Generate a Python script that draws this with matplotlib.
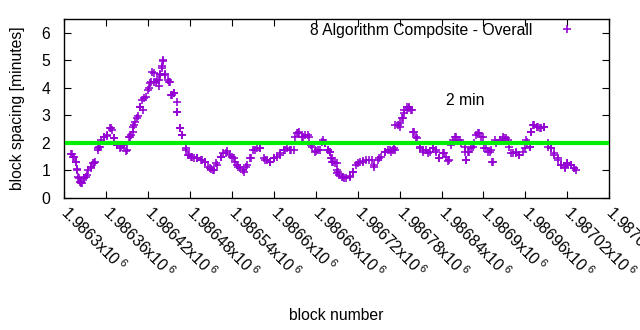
import matplotlib

matplotlib.use("Agg")
import matplotlib.pyplot as plt

plt.rcParams["font.family"] = ["Liberation Sans", "DejaVu Sans"]
plt.rcParams["mathtext.fontset"] = "custom"
plt.rcParams["mathtext.rm"] = "Liberation Sans"
plt.rcParams["mathtext.default"] = "regular"

FS = 11.3

# block spacing (minutes), averaged, per block number
blocks = [
    1986312, 1986314, 1986317, 1986319, 1986321, 1986324, 1986326, 1986329,
    1986333, 1986338, 1986343, 1986348, 1986352, 1986357, 1986362, 1986367,
    1986371, 1986376, 1986381, 1986386, 1986390, 1986395, 1986398, 1986400,
    1986405, 1986409, 1986412, 1986417, 1986421, 1986425, 1986429, 1986432,
    1986436, 1986438, 1986440, 1986442, 1986445, 1986450, 1986455, 1986457,
    1986462, 1986466, 1986469, 1986474, 1986479, 1986483, 1986490, 1986498,
    1986501, 1986509, 1986513, 1986518, 1986525, 1986532, 1986540, 1986544,
    1986549, 1986556, 1986561, 1986566, 1986573, 1986580, 1986587, 1986594,
    1986601, 1986609, 1986616, 1986623, 1986630, 1986635, 1986642, 1986649,
    1986654, 1986659, 1986666, 1986670, 1986673, 1986678, 1986680, 1986682,
    1986684, 1986690, 1986692, 1986697, 1986701, 1986709, 1986713, 1986720,
    1986728, 1986737, 1986744, 1986751, 1986759, 1986766, 1986770, 1986772,
    1986774, 1986780, 1986785, 1986787, 1986790, 1986794, 1986797, 1986799,
    1986804, 1986809, 1986813, 1986820, 1986828, 1986832, 1986837, 1986844,
    1986851, 1986856, 1986861, 1986866, 1986873, 1986875, 1986880, 1986885,
    1986890, 1986894, 1986899, 1986904, 1986909, 1986912, 1986916, 1986923,
    1986930, 1986935, 1986940, 1986947, 1986951, 1986959, 1986963, 1986967,
    1986968, 1986973, 1986978, 1986982, 1986987, 1986992, 1986997, 1987001,
    1987006, 1987011, 1987016, 1987020, 1987025, 1987030,
    1986310, 1986313, 1986317, 1986319, 1986320, 1986323, 1986325, 1986328,
    1986331, 1986334, 1986338, 1986342, 1986345, 1986348, 1986350, 1986353,
    1986357, 1986361, 1986366, 1986369, 1986372, 1986376, 1986380, 1986385,
    1986389, 1986393, 1986396, 1986399, 1986402, 1986406, 1986409, 1986413,
    1986415, 1986420, 1986423, 1986426, 1986429, 1986433, 1986436, 1986438,
    1986440, 1986442, 1986445, 1986449, 1986451, 1986453, 1986457, 1986461,
    1986462, 1986466, 1986469, 1986474, 1986477, 1986481, 1986486, 1986490,
    1986496, 1986501, 1986506, 1986510, 1986515, 1986519, 1986524, 1986528,
    1986533, 1986538, 1986543, 1986548, 1986552, 1986557, 1986562, 1986567,
    1986571, 1986576, 1986581, 1986586, 1986590, 1986595, 1986600, 1986605,
    1986609, 1986614, 1986619, 1986624, 1986629, 1986633, 1986636, 1986640,
    1986645, 1986650, 1986655, 1986660, 1986664, 1986669, 1986674, 1986678,
    1986683, 1986688, 1986691, 1986680, 1986685, 1986690, 1986694, 1986699,
    1986704, 1986709, 1986713, 1986718, 1986723, 1986728, 1986732, 1986740,
    1986744, 1986749, 1986754, 1986759, 1986763, 1986768, 1986773, 1986778,
    1986781, 1986784, 1986787, 1986790, 1986794, 1986798, 1986801, 1986805,
    1986809, 1986813, 1986818, 1986823, 1986828, 1986832, 1986837, 1986842,
    1986847, 1986849, 1986854, 1986859, 1986863, 1986868, 1986873, 1986875,
    1986878, 1986882, 1986887, 1986892, 1986897, 1986901, 1986906, 1986911,
    1986913, 1986918, 1986923, 1986928, 1986932, 1986937, 1986942, 1986947,
    1986951, 1986956, 1986961, 1986966, 1986968, 1986971, 1986976, 1986981,
    1986987, 1986992, 1986997, 1987001, 1987006, 1987011, 1987016, 1987020,
    1987025, 1987030, 1987032,
]
spacing = [
    1.60, 1.49, 1.32, 1.02, 0.73, 0.59, 0.55, 0.73,
    0.84, 1.08, 1.26, 1.81, 1.87, 2.20, 2.29, 2.53,
    2.18, 1.93, 1.87, 1.93, 1.75, 2.20, 2.41, 2.65,
    2.90, 3.32, 3.56, 3.68, 3.99, 4.23, 4.53, 4.23,
    4.29, 4.47, 4.72, 4.96, 4.47, 4.23, 3.75, 3.80,
    3.14, 2.53, 2.29, 1.75, 1.56, 1.50, 1.44, 1.38,
    1.32, 1.08, 1.02, 1.26, 1.50, 1.62, 1.50, 1.32,
    1.14, 1.02, 1.14, 1.44, 1.75, 1.81, 1.38, 1.32,
    1.44, 1.56, 1.75, 1.75, 2.23, 2.35, 2.23, 2.29,
    1.93, 1.68, 1.75, 2.10, 1.99, 1.75, 1.68, 1.44,
    1.32, 1.26, 0.93, 0.78, 0.72, 0.78, 0.96, 1.26,
    1.32, 1.38, 1.20, 1.44, 1.68, 1.75, 1.75, 1.80,
    2.65, 2.59, 2.90, 3.20, 3.30, 3.26, 3.20, 2.41,
    2.20, 1.87, 1.75, 1.62, 1.81, 1.68, 1.44, 1.62,
    1.38, 2.11, 2.23, 2.11, 1.87, 1.38, 1.68, 1.87,
    2.29, 2.35, 2.23, 1.81, 1.68, 1.32, 2.11, 2.11,
    2.17, 2.11, 1.62, 1.62, 1.56, 1.81, 2.05, 1.87,
    2.41, 2.65, 2.59, 2.53, 2.59, 1.87, 1.81, 1.56,
    1.38, 1.20, 1.08, 1.26, 1.20, 1.08,
    1.60, 1.50, 1.32, 1.04, 0.78, 0.59, 0.53, 0.71,
    0.78, 1.02, 1.14, 1.26, 1.32, 1.75, 1.87, 2.11,
    2.23, 2.25, 2.53, 2.47, 2.17, 1.93, 1.81, 1.93,
    1.69, 2.23, 2.29, 2.59, 2.77, 2.96, 3.32, 3.20,
    3.62, 3.93, 4.17, 4.56, 4.23, 4.29, 4.05, 4.50,
    4.78, 5.00, 4.50, 4.29, 4.20, 3.75, 3.81, 3.50,
    3.14, 2.53, 2.29, 1.81, 1.56, 1.50, 1.44, 1.44,
    1.38, 1.32, 1.14, 1.04, 1.02, 1.20, 1.50, 1.62,
    1.69, 1.56, 1.44, 1.20, 1.08, 0.96, 1.20, 1.44,
    1.75, 1.81, 1.81, 1.44, 1.38, 1.32, 1.44, 1.50,
    1.62, 1.75, 1.81, 1.75, 1.75, 2.35, 2.41, 2.23,
    2.29, 2.20, 1.87, 1.69, 1.75, 2.05, 1.99, 1.75,
    1.44, 1.26, 0.90, 1.68, 1.32, 1.02, 0.84, 0.76,
    0.72, 0.80, 0.96, 1.20, 1.32, 1.36, 1.38, 1.38,
    1.14, 1.38, 1.50, 1.68, 1.75, 1.68, 1.75, 2.65,
    2.71, 2.90, 3.08, 3.20, 3.32, 3.20, 2.41, 2.17,
    1.81, 1.68, 1.75, 1.68, 1.81, 1.75, 1.44, 1.62,
    1.50, 1.36, 1.93, 2.23, 2.11, 1.99, 1.68, 1.38,
    1.68, 1.81, 1.99, 2.35, 2.23, 1.81, 1.68, 1.75,
    1.32, 1.99, 2.11, 2.23, 2.17, 1.87, 1.62, 1.68,
    1.56, 1.68, 2.11, 1.87, 2.41, 2.65, 2.59, 2.53,
    2.59, 1.99, 1.81, 1.62, 1.44, 1.20, 1.14, 1.26,
    1.20, 1.08, 1.02,
]
assert len(blocks) == len(spacing)

target_minutes = 2
xticks = list(range(1986300, 1987081, 60))
xtick_labels = [
    "1.9863", "1.98636", "1.98642", "1.98648", "1.98654", "1.9866", "1.98666",
    "1.98672", "1.98678", "1.98684", "1.9869", "1.98696", "1.98702", "1.98708",
]

fig = plt.figure(figsize=(6.4, 3.3), dpi=100)
ax = fig.add_axes([0.1, 0.4, 0.852, 0.5424])

ax.plot(
    blocks, spacing, linestyle="none", marker="+", markersize=6.2,
    markeredgewidth=1.15, color="#9400d3",
    label="8 Algorithm Composite - Overall",
)
ax.axhline(target_minutes, xmin=0.006, xmax=0.996, color="#00ee00",
           linewidth=3.0, zorder=3)
ax.text(1986846, 3.53, "2 min", ha="left", va="center", fontsize=FS)

ax.set_xlim(1986300, 1987080)
ax.set_ylim(0, 6.5)
ax.set_yticks(range(0, 7))
ax.set_xticks(xticks)
ax.set_xticklabels([f"{s}x10$\\,^{{6}}$" for s in xtick_labels],
                   rotation=-45, ha="left", va="center",
                   rotation_mode="anchor")
ax.tick_params(direction="in", length=5, width=0.8, labelsize=FS,
               top=True, right=True)
ax.tick_params(axis="x", pad=8)
ax.tick_params(axis="y", pad=10)
for sp in ax.spines.values():
    sp.set_linewidth(1.0)

ax.set_ylabel("block spacing [minutes]", fontsize=FS)
ax.yaxis.set_label_coords(-0.072, 0.5)
ax.set_xlabel("block number", fontsize=FS)
ax.xaxis.set_label_coords(0.5, -0.615)

ax.legend(loc="upper right", bbox_to_anchor=(0.962, 1.015), borderaxespad=0,
          frameon=False, markerfirst=False, handletextpad=1.17,
          fontsize=FS)

fig.savefig("out.png", dpi=100)
